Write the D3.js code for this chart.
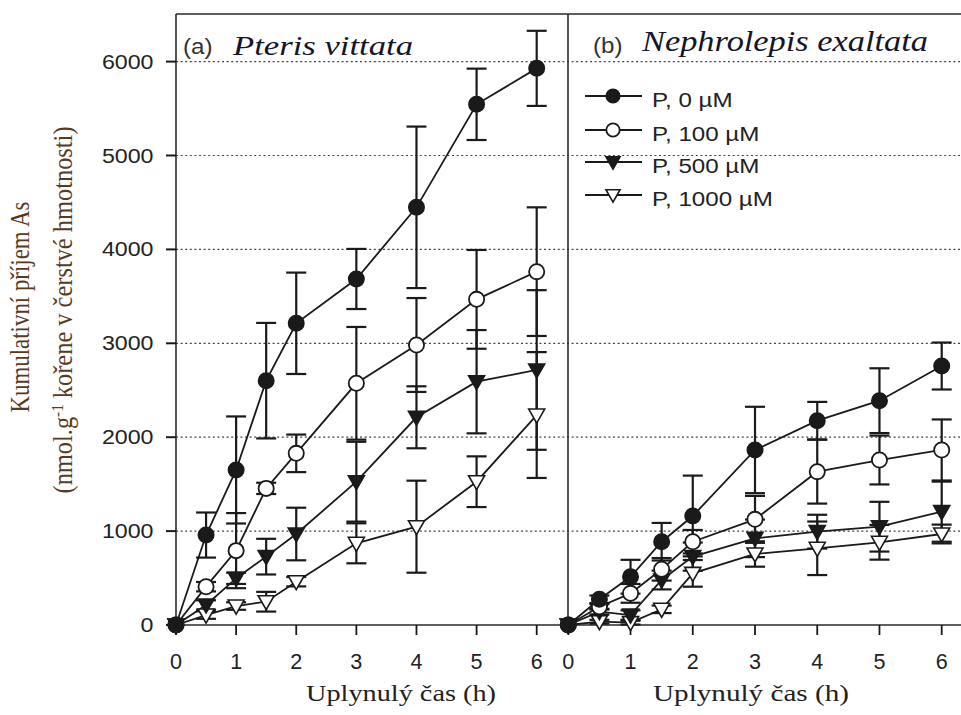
<!DOCTYPE html>
<html>
<head>
<meta charset="utf-8">
<script src="https://cdn.jsdelivr.net/npm/d3@7"></script>
<style>
  html, body { margin: 0; padding: 0; background: #fff; }
  svg { display: block; }
</style>
</head>
<body>
<div id="chart"></div>
<script>
// ---------------- DATA ----------------
const hours = [0, 0.5, 1, 1.5, 2, 3, 4, 5, 6];
const xTicks = [0, 1, 2, 3, 4, 5, 6];
const yTicks = [0, 1000, 2000, 3000, 4000, 5000, 6000];
const gridTicks = [1000, 2000, 3000, 4000, 5000, 6000];

const seriesNames = ["P, 0 \u00b5M", "P, 100 \u00b5M", "P, 500 \u00b5M", "P, 1000 \u00b5M"];

// Panel (a) Pteris vittata
const a_P0     = [0, 958, 1651, 2602, 3213, 3685, 4448, 5545, 5928];
const a_P0_err = [0, 240, 570, 615, 540, 320, 860, 380, 400];
const a_P100     = [0, 408, 792, 1455, 1828, 2574, 2982, 3468, 3763];
const a_P100_err = [0, 50, 400, 60, 200, 600, 500, 526, 685];
const a_P500     = [0, 213, 497, 728, 969, 1526, 2212, 2591, 2716];
const a_P500_err = [0, 50, 60, 190, 280, 425, 330, 550, 850];
const a_P1000     = [0, 106, 202, 248, 461, 870, 1047, 1526, 2236];
const a_P1000_err = [0, 40, 40, 105, 50, 213, 490, 270, 670];

// Panel (b) Nephrolepis exaltata
const b_P0     = [0, 274, 514, 887, 1161, 1864, 2176, 2389, 2758];
const b_P0_err = [0, 40, 180, 200, 430, 460, 200, 345, 250];
const b_P100     = [0, 195, 337, 593, 887, 1125, 1633, 1757, 1864];
const b_P100_err = [0, 30, 100, 120, 125, 250, 340, 260, 325];
const b_P500     = [0, 142, 106, 479, 728, 923, 994, 1047, 1207];
const b_P500_err = [0, 30, 50, 100, 150, 200, 180, 265, 320];
const b_P1000     = [0, 35, 25, 167, 550, 756, 817, 881, 969];
const b_P1000_err = [0, 20, 20, 40, 142, 135, 285, 185, 100];

const panelTitles = [["(a)", "Pteris vittata"], ["(b)", "Nephrolepis exaltata"]];
const xTitle = "Uplynul\u00fd \u010das (h)";
const yTitle1 = "Kumulativn\u00ed p\u0159\u00edjem As";
const yTitle2a = "(nmol.g";
const yTitle2sup = "-1";
const yTitle2b = " ko\u0159ene v \u010derstv\u00e9 hmotnosti)";

// ---------------- LAYOUT ----------------
const W = 961, H = 715;
const svg = d3.select("#chart").append("svg").attr("width", W).attr("height", H);

const y = d3.scaleLinear().domain([0, 6000]).range([625, 61.6]);
const xa = d3.scaleLinear().domain([0, 6]).range([176, 536.7]);
const xb = d3.scaleLinear().domain([0, 6]).range([568.3, 941.7]);
const frameTop = 14, frameLeft = 176, divider = 568, frameRight = 961;
const ink = "#1a1a1a";
const sans = "'Liberation Sans', Arial, sans-serif";
const serif = "'Liberation Serif', 'Times New Roman', serif";

function stretchText(parent, x, yy, str, opts) {
  const g = parent.append("g").attr("transform", `translate(${x},${yy}) scale(${opts.sx || 1},1)`);
  const t = g.append("text")
    .attr("x", 0).attr("y", 0)
    .attr("font-family", opts.family || sans)
    .attr("font-size", opts.size || 16)
    .attr("font-style", opts.style || "normal")
    .attr("fill", opts.fill || ink)
    .attr("text-anchor", opts.anchor || "start")
    .text(str);
  if (opts.len) t.attr("textLength", opts.len).attr("lengthAdjust", "spacingAndGlyphs");
  return t;
}

// gridlines
svg.append("g").selectAll("line").data(gridTicks).join("line")
  .attr("x1", frameLeft).attr("x2", frameRight)
  .attr("y1", d => y(d)).attr("y2", d => y(d))
  .attr("stroke", "#444").attr("stroke-width", 1.2).attr("stroke-dasharray", "2,2.6");

// frame
const frame = svg.append("g").attr("stroke", "#2a2a2a").attr("stroke-width", 1.6).attr("fill", "none");
frame.append("line").attr("x1", frameLeft).attr("x2", frameRight).attr("y1", frameTop).attr("y2", frameTop);
frame.append("line").attr("x1", frameLeft).attr("x2", frameLeft).attr("y1", frameTop).attr("y2", y(0));
frame.append("line").attr("x1", divider).attr("x2", divider).attr("y1", frameTop).attr("y2", y(0));
frame.append("line").attr("x1", frameLeft).attr("x2", frameRight).attr("y1", y(0)).attr("y2", y(0));

// y ticks
svg.append("g").selectAll("line").data(yTicks).join("line")
  .attr("x1", frameLeft - 10).attr("x2", frameLeft)
  .attr("y1", d => y(d)).attr("y2", d => y(d))
  .attr("stroke", ink).attr("stroke-width", 2);
yTicks.forEach(v => {
  stretchText(svg, 153.5, y(v) + 7, String(v), { size: 20, sx: 1.16, anchor: "end", fill: "#222" });
});

// x ticks for both panels
[xa, xb].forEach(xs => {
  svg.append("g").selectAll("line").data(xTicks).join("line")
    .attr("x1", d => xs(d)).attr("x2", d => xs(d))
    .attr("y1", y(0)).attr("y2", y(0) + 10)
    .attr("stroke", ink).attr("stroke-width", 1.8);
  xTicks.forEach(v => {
    stretchText(svg, xs(v), 669, String(v), { size: 22, sx: 0.98, anchor: "middle", fill: "#222" });
  });
});

// x titles
stretchText(svg, 401, 701, xTitle, { family: serif, size: 24, anchor: "middle", len: 190, fill: "#222" });
stretchText(svg, 751, 701, xTitle, { family: serif, size: 24, anchor: "middle", len: 196, fill: "#222" });

// y title (rotated, stretched horizontally)
const yColor = "#5a3a1e";
const yt1 = svg.append("g").attr("transform", "translate(29,307) scale(1.18,1) rotate(-90)");
yt1.append("text").attr("text-anchor", "middle").attr("font-family", serif).attr("font-size", 22.5)
  .attr("fill", yColor).attr("textLength", 211).attr("lengthAdjust", "spacingAndGlyphs").text(yTitle1);
const yt2 = svg.append("g").attr("transform", "translate(72,310) scale(1.18,1) rotate(-90)");
const t2 = yt2.append("text").attr("text-anchor", "middle").attr("font-family", serif).attr("font-size", 22.5)
  .attr("fill", yColor);
t2.append("tspan").text(yTitle2a);
t2.append("tspan").attr("font-size", 14).attr("dy", -8).text(yTitle2sup);
t2.append("tspan").attr("dy", 8).text(yTitle2b);
t2.attr("textLength", 367).attr("lengthAdjust", "spacingAndGlyphs");

// panel titles
stretchText(svg, 183, 54, panelTitles[0][0], { size: 22, sx: 1.1, fill: "#333" });
stretchText(svg, 233, 55, panelTitles[0][1], { family: serif, style: "italic", size: 28, len: 180, fill: "#15152a" });
stretchText(svg, 593, 53, panelTitles[1][0], { size: 22, sx: 1.1, fill: "#333" });
stretchText(svg, 642, 51, panelTitles[1][1], { family: serif, style: "italic", size: 30, len: 286, fill: "#15152a" });

// ---------------- SERIES ----------------
const kinds = ["filledCircle", "openCircle", "filledTri", "openTri"];
const panels = [
  { xs: xa, vals: [a_P0, a_P100, a_P500, a_P1000], errs: [a_P0_err, a_P100_err, a_P500_err, a_P1000_err] },
  { xs: xb, vals: [b_P0, b_P100, b_P500, b_P1000], errs: [b_P0_err, b_P100_err, b_P500_err, b_P1000_err] }
];

function drawMarker(sel, kind, scale) {
  const s = scale || 1;
  if (kind === "filledCircle" || kind === "openCircle") {
    sel.append("circle").attr("r", 7.6 * s)
      .attr("fill", kind === "filledCircle" ? ink : "#fff")
      .attr("stroke", ink).attr("stroke-width", 1.8);
  } else {
    const hw = 8 * s;
    const p = `M${-hw},${-6 * s}L${hw},${-6 * s}L0,${8 * s}Z`;
    sel.append("path").attr("d", p)
      .attr("fill", kind === "filledTri" ? ink : "#fff")
      .attr("stroke", ink).attr("stroke-width", 1.6).attr("stroke-linejoin", "miter");
  }
}

panels.forEach(p => {
  const gErr = svg.append("g");
  const gLine = svg.append("g");
  const gMark = svg.append("g");
  p.vals.forEach((vals, si) => {
    const rows = hours.map((h, i) => ({ h, v: vals[i], e: p.errs[si][i] }));
    // error bars
    rows.filter(d => d.e > 0).forEach(d => {
      const eg = gErr.append("g").attr("stroke", ink).attr("stroke-width", 2.2);
      eg.append("line").attr("x1", p.xs(d.h)).attr("x2", p.xs(d.h)).attr("y1", y(d.v - d.e)).attr("y2", y(d.v + d.e));
      [d.v - d.e, d.v + d.e].forEach(c => {
        eg.append("line").attr("x1", p.xs(d.h) - 10).attr("x2", p.xs(d.h) + 10).attr("y1", y(c)).attr("y2", y(c));
      });
    });
    // line
    gLine.append("path").datum(rows)
      .attr("d", d3.line().x(d => p.xs(d.h)).y(d => y(d.v)))
      .attr("fill", "none").attr("stroke", ink).attr("stroke-width", 1.8);
  });
  // markers drawn in reverse so filled circles on top
  [3, 2, 1, 0].forEach(si => {
    hours.forEach((h, i) => {
      const m = gMark.append("g").attr("transform", `translate(${p.xs(h)},${y(p.vals[si][i])})`);
      drawMarker(m, kinds[si], 1);
    });
  });
});

// ---------------- LEGEND ----------------
const legendRows = [96, 130, 162, 195];
seriesNames.forEach((name, i) => {
  const g = svg.append("g").attr("transform", `translate(0,${legendRows[i]})`);
  g.append("line").attr("x1", 585).attr("x2", 642).attr("y1", 0).attr("y2", 0)
    .attr("stroke", ink).attr("stroke-width", 1.8);
  const m = g.append("g").attr("transform", "translate(613,0)");
  drawMarker(m, kinds[i], 0.88);
  stretchText(g, 652, 10.5, name, { size: 21, sx: 1.15, fill: "#222" });
});
</script>
</body>
</html>
